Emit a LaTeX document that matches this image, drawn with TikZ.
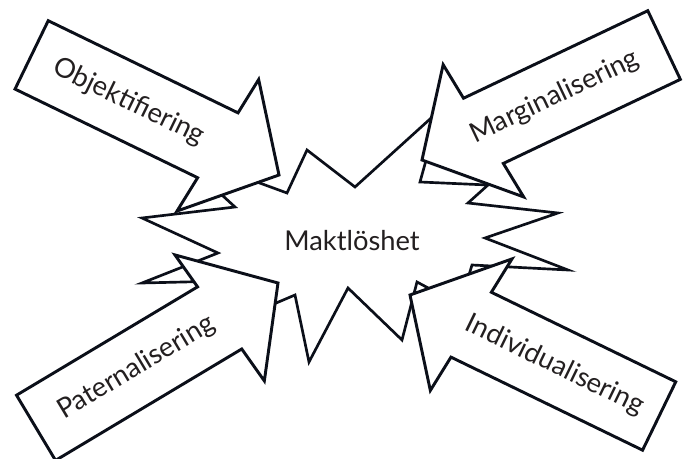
\documentclass[tikz,border=0pt]{standalone}
\usepackage{fontspec}
\setmainfont{Lato}
\definecolor{inkline}{HTML}{0B0F19}
\definecolor{inktext}{HTML}{231F20}

\tikzset{
  burst/.style={draw=inkline, line width=2pt, fill=white, line join=miter, miter limit=20},
  bigarrow/.style={draw=inkline, line width=2.2pt, fill=white, line join=miter},
  lbl/.style={text=inktext, font=\fontsize{20.5}{24}\selectfont, inner sep=0pt}
}

\begin{document}
\begin{tikzpicture}[x=0.75pt, y=-0.75pt]
	\useasboundingbox (0,0) rectangle (683,459);
	% the explosion in the middle
	\draw[burst] (307,150) -- (355,187) -- (440,110) -- (420,182) -- (488,185)
		-- (468,203) -- (558,213) -- (485,238) -- (568,270) -- (472,265)
		-- (460,305) -- (417,282) -- (402,340) -- (348,288) -- (309,362)
		-- (295,295) -- (255,312) -- (225,281) -- (142,283) -- (218,253)
		-- (142,218) -- (235,207) -- (175,152) -- (287,193) -- cycle;
	\node[lbl] (makt) at (352,241) {Maktlöshet};
	% four arrows: tip x / tip y / angle / length / head skew / label pos / text angle
	\foreach \tx/\ty/\ang/\len/\sk/\pos/\rot/\name/\txt in {
		279/175/-25.9/275/-8/167/-25.9/obj/Objektifiering,
		422/160/205.4/268/8/147/25.4/marg/Marginalisering,
		278/283/30.9/282/6/165/30.9/pat/Paternalisering,
		410/295/154.1/277/-8/161/-25.9/ind/Individualisering} {
		\begin{scope}[shift={(\tx,\ty)}, rotate=\ang]
			\draw[bigarrow] (0,0) -- ({-68+(\sk)},77) -- ({-68+0.5*(\sk)},38) -- (-\len,38)
				-- (-\len,-38) -- ({-68-0.5*(\sk)},-38) -- ({-68-(\sk)},-77) -- cycle;
			\node[lbl, rotate=\rot] (\name) at (-\pos,0) {\txt};
		\end{scope}
	}
\end{tikzpicture}
\end{document}
